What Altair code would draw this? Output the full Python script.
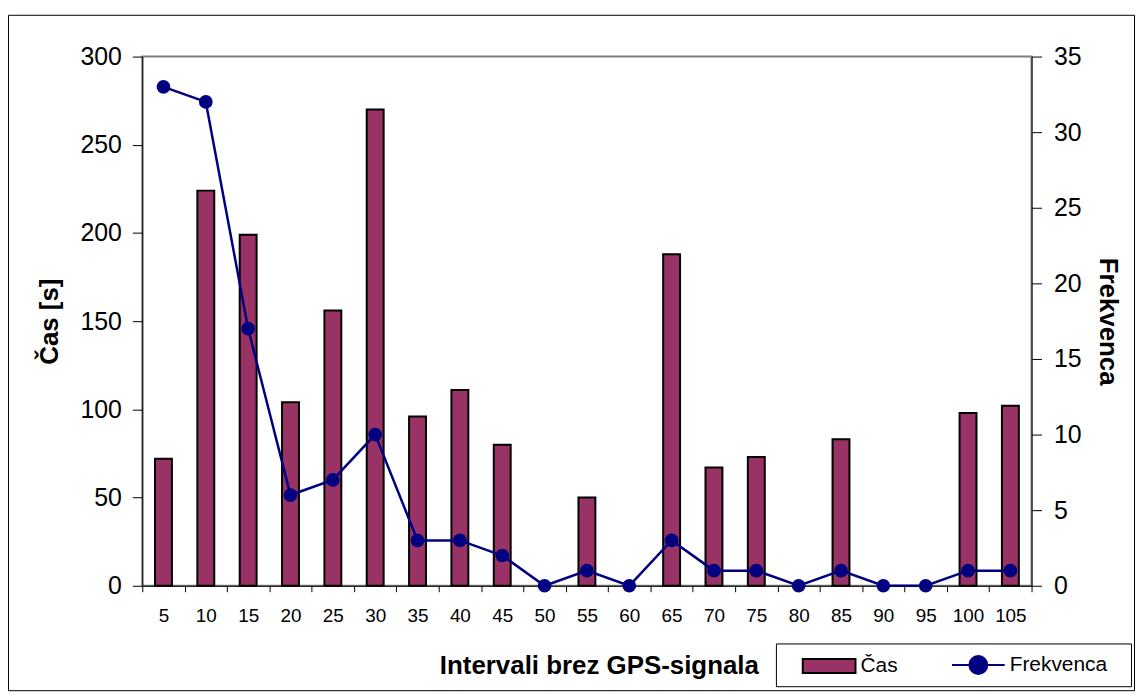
import altair as alt
import pandas as pd

categories = ["5", "10", "15", "20", "25", "30", "35", "40", "45", "50", "55",
              "60", "65", "70", "75", "80", "85", "90", "95", "100", "105"]
cas_values = [72, 224, 199, 104, 156, 270, 96, 111, 80, None, 50,
              None, 188, 67, 73, None, 83, None, None, 98, 102]
freq_values = [33, 32, 17, 6, 7, 10, 3, 3, 2, 0, 1,
               0, 3, 1, 1, 0, 1, 0, 0, 1, 1]
series_names = ["Čas", "Frekvenca"]
left_ticks = [0, 50, 100, 150, 200, 250, 300]
right_ticks = [0, 5, 10, 15, 20, 25, 30, 35]

BAR_COLOR = "#993366"
LINE_COLOR = "#000080"
FONT = "Liberation Sans"

df = pd.DataFrame({"interval": categories, "cas": cas_values, "freq": freq_values})

x_enc = alt.X(
    "interval:N",
    sort=categories,
    scale=alt.Scale(type="band", paddingInner=0, paddingOuter=0),
    axis=alt.Axis(
        labelAngle=0, labelFontSize=19, labelOverlap=False, tickBand="extent",
        tickSize=6, labelPadding=15, title="Intervali brez GPS-signala",
        titleFontSize=26, titleFontWeight="bold", titleX=459, titleY=88,
        titleAlign="center", titleBaseline="alphabetic",
    ),
)

frame = alt.Chart(pd.DataFrame({"k": [0]})).mark_rect(
    filled=False, stroke="black", strokeWidth=1
).encode(
    x=alt.value(-134.5), x2=alt.value(997.5), y=alt.value(-41.5), y2=alt.value(637.5)
)

bars = alt.Chart(df).transform_filter("isValid(datum.cas)").mark_bar(
    color=BAR_COLOR, stroke="black", strokeWidth=2, size=17
).encode(
    x=x_enc,
    y=alt.Y(
        "cas:Q",
        scale=alt.Scale(domain=[0, 300], nice=False),
        axis=alt.Axis(
            orient="left", values=left_ticks, tickSize=10, labelPadding=11,
            labelFontSize=25, title="Čas [s]", titleFontSize=26,
            titleFontWeight="bold", titlePadding=18,
        ),
    ),
)

line = alt.Chart(df).mark_line(
    color=LINE_COLOR, strokeWidth=2.5,
    point=alt.OverlayMarkDef(filled=True, size=190, color=LINE_COLOR),
).encode(
    x=x_enc,
    y=alt.Y(
        "freq:Q",
        scale=alt.Scale(domain=[0, 35], nice=False),
        axis=alt.Axis(
            orient="right", values=right_ticks, tickSize=10, labelPadding=12,
            labelFontSize=25, title="Frekvenca", titleFontSize=26,
            titleFontWeight="bold", titlePadding=14,
        ),
    ),
)

legend_box = alt.Chart(pd.DataFrame({"k": [0]})).mark_rect(
    fill="white", stroke="black", strokeWidth=1
).encode(
    x=alt.value(637.5), x2=alt.value(994.5), y=alt.value(590.5), y2=alt.value(633.5)
)

rect_path = "M-1,-0.264H1V0.264H-1Z"
line_circle_path = "M-1,0H1M0.34,0A0.34,0.34,0,1,1,-0.34,0A0.34,0.34,0,1,1,0.34,0Z"

leg = alt.Legend(
    orient="none", legendX=663, legendY=584, direction="horizontal",
    symbolSize=2809, symbolStrokeWidth=2, labelFontSize=21, labelFont=FONT,
    labelColor="black", labelOffset=4, columnPadding=50, padding=0,
    symbolOpacity=1,
)

legend_layer = alt.Chart(pd.DataFrame({"series": series_names})).transform_filter(
    "false"
).mark_point(filled=True).encode(
    fill=alt.Fill("series:N", title=None,
                  scale=alt.Scale(domain=series_names, range=[BAR_COLOR, LINE_COLOR]),
                  legend=leg),
    stroke=alt.Stroke("series:N", title=None,
                      scale=alt.Scale(domain=series_names, range=["#000000", LINE_COLOR]),
                      legend=leg),
    shape=alt.Shape("series:N", title=None,
                    scale=alt.Scale(domain=series_names, range=[rect_path, line_circle_path]),
                    legend=leg),
)

chart = alt.layer(frame, bars, line, legend_box, legend_layer).resolve_scale(
    y="independent"
).properties(
    width=894,
    height=532,
    autosize=alt.AutoSizeParams(type="none"),
    padding={"left": 135, "top": 47, "right": 104, "bottom": 108},
    background="white",
).configure(
    font=FONT,
).configure_view(
    fill="#C0C0C0", stroke="#808080", strokeWidth=2
).configure_axis(
    domainColor="black", tickColor="black", labelColor="black",
    titleColor="black", grid=False, labelFont=FONT, titleFont=FONT,
    domainWidth=1, tickWidth=1,
)

chart.save("out.html", embed_options={"renderer": "svg", "actions": False})
